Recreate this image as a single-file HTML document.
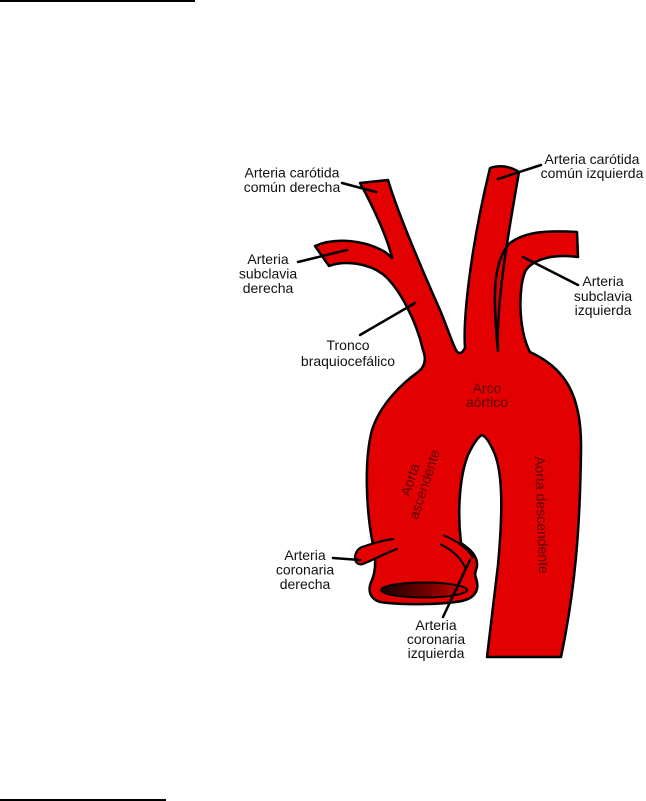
<!DOCTYPE html>
<html>
<head>
<meta charset="utf-8">
<style>
html,body{margin:0;padding:0;background:#fff;}
svg{display:block;}
text{font-family:"Liberation Sans",Arial,sans-serif;font-size:14px;}
</style>
</head>
<body>
<svg width="646" height="801" viewBox="0 0 646 801" xmlns="http://www.w3.org/2000/svg">
<defs>
<linearGradient id="hole" x1="0" y1="0" x2="1" y2="0">
<stop offset="0" stop-color="#1a0000"/>
<stop offset="0.5" stop-color="#6a0000"/>
<stop offset="1" stop-color="#d40000"/>
</linearGradient>
</defs>
<rect x="0" y="0" width="195" height="2" fill="#000"/>
<rect x="0" y="799" width="166" height="2" fill="#000"/>

<!-- aorta body -->
<path d="M360,183 L388,180
C397,210 420,265 440,310
C447,327 452,342 456,350
Q460,357 465,348
C463,320 470,250 490,168
Q505,163 519,172
C509,230 496,300 498,351
C493,300 492,262 510,243
C525,232 545,230 577,232
L578,257
C555,254 535,258 526,270
C518,285 518,330 530,352
C565,368 582,395 581,450
C580,530 575,590 561,657
L487,657
L498,565
C503,510 503,470 493,450
Q487,437 482,435
Q476,438 468,455
C460,475 457,510 461,543
C470,549 478,556 477,566
C476,572 474,573 476,578
C480,590 475,598 462,601
C440,605 400,605 380,602
C368,598 368,588 372,580
C376,570 376,558 373,545
C366,510 364,460 372,430
C380,405 400,385 418,372
C426,366 426,358 423,350
C416,320 400,290 385,276
C370,263 345,260 329,266
L315,246
C335,237 365,240 385,252
Q390,256 392,258
C388,240 375,210 360,183 Z"
fill="#e20000" stroke="#000" stroke-width="2.5" stroke-linejoin="round"/>

<!-- opening ellipse -->
<ellipse cx="424" cy="590" rx="43" ry="7.5" fill="url(#hole)" stroke="#000" stroke-width="2"/>

<!-- right coronary -->
<path d="M393,539 C380,541 370,544 362,547 C352,551 353,567 363,564 C375,559 386,553 397,549" fill="#e20000" stroke="#000" stroke-width="2.2" stroke-linecap="round"/>

<!-- left coronary lines -->
<path d="M443,535 C455,540 468,548 473,558" fill="none" stroke="#000" stroke-width="2"/>
<path d="M440,544 C452,550 462,558 466,570" fill="none" stroke="#000" stroke-width="2"/>

<!-- leader lines -->
<g stroke="#000" stroke-width="2.5" stroke-linecap="round">
<line x1="342" y1="183" x2="376" y2="192"/>
<line x1="298" y1="262" x2="347" y2="250"/>
<line x1="360" y1="335" x2="415" y2="303"/>
<line x1="541" y1="165" x2="498" y2="179"/>
<line x1="578" y1="285" x2="523" y2="257"/>
<line x1="333" y1="558" x2="360" y2="560"/>
<line x1="443" y1="617" x2="470" y2="560"/>
</g>

<!-- external labels -->
<g fill="#111" text-anchor="middle">
<text x="292" y="177.5">Arteria carótida</text>
<text x="292" y="192">común derecha</text>

<text x="268" y="264">Arteria</text>
<text x="268" y="278.5">subclavia</text>
<text x="268" y="293">derecha</text>

<text x="348" y="350">Tronco</text>
<text x="348" y="366">braquiocefálico</text>

<text x="592" y="164">Arteria carótida</text>
<text x="592" y="178">común izquierda</text>

<text x="603" y="286">Arteria</text>
<text x="603" y="301">subclavia</text>
<text x="603" y="315">izquierda</text>

<text x="305" y="560">Arteria</text>
<text x="305" y="574.5">coronaria</text>
<text x="305" y="589">derecha</text>

<text x="436" y="630">Arteria</text>
<text x="436" y="644">coronaria</text>
<text x="436" y="658">izquierda</text>
</g>

<!-- internal labels -->
<g fill="#5a0000" text-anchor="middle">
<text x="487" y="393">Arco</text>
<text x="487" y="407">aórtico</text>
<text transform="translate(417,482) rotate(-72)"><tspan x="0" y="-2.5">Aorta</tspan><tspan x="0" y="12.5">ascendente</tspan></text>
<text transform="translate(542,515) rotate(88)" x="0" y="5">Aorta descendente</text>
</g>
</svg>
</body>
</html>
